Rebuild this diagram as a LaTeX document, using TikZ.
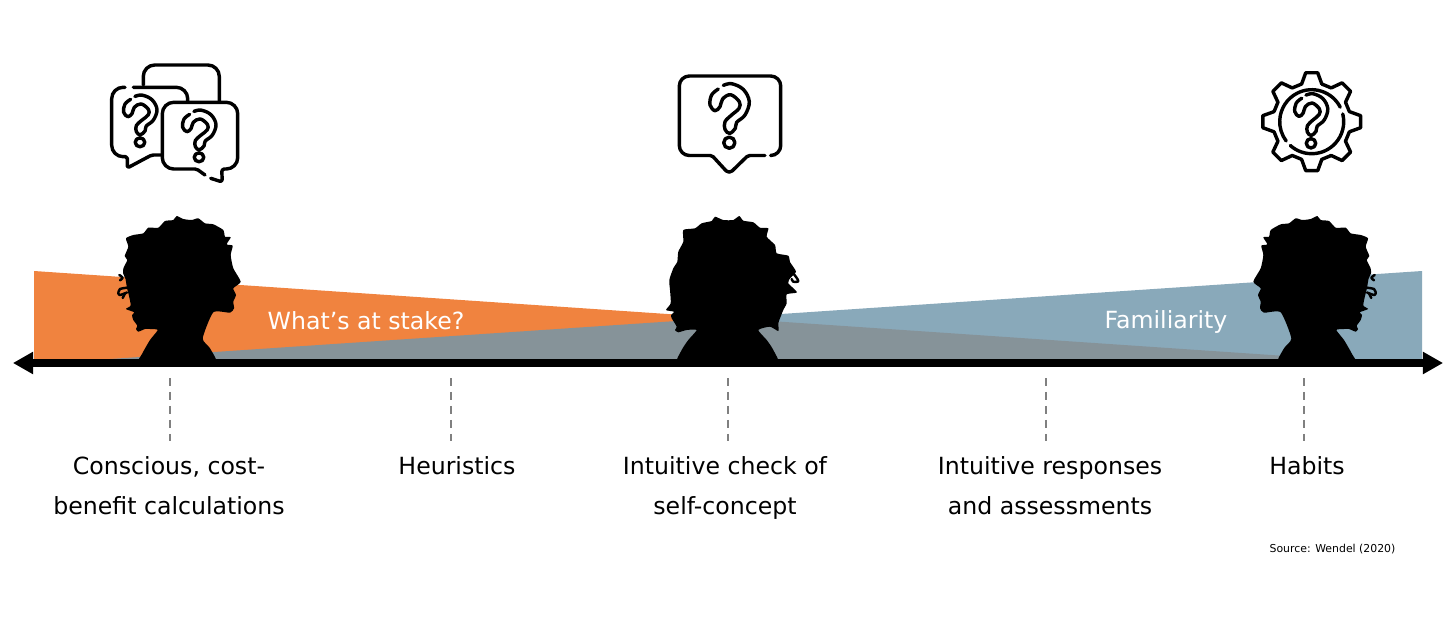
\documentclass[tikz,border=0pt]{standalone}
\usepackage{fontspec}
\setmainfont{DejaVu Sans}
\usetikzlibrary{arrows.meta}
\definecolor{stakeorange}{HTML}{F0833F}
\definecolor{familiarblue}{HTML}{7197AC}
\tikzset{
  iconline/.style={black,line width=1.95pt,line cap=round,line join=round},
  curlline/.style={black,line width=1.4pt,line cap=round,line join=round},
  ticklabel/.style={align=center,font=\fontsize{13.45}{22.6}\selectfont,inner sep=0pt},
  tickline/.style={gray,line width=1.1pt,dash pattern=on 4.5pt off 3.45pt},
  overlay label/.style={white,font=\fontsize{13.45}{16}\selectfont,inner sep=0pt},
  headside/.pic={
    \fill [black] plot [smooth cycle,tension=0.35] coordinates {(138.5,364) (142,354) (150,340) (157.7,330) (150,329) (145,329) (138.3,331.7) (136,329) (137.3,325.7) (133.3,320) (132,315) (134.3,312.3) (126,309) (130.7,305.5) (129,296) (127,288) (125.5,279) (123,273) (123.5,268) (127.3,260) (124.7,256) (128.3,246.7) (126,238.3) (133.3,235) (143.3,233.3) (148.3,227.7) (158.3,227.7) (165,221) (173.3,220) (176.7,216) (183.3,219) (191.7,220) (198.3,218.3) (205,223.3) (213.3,224.3) (223.3,230) (225,236.7) (230.7,237.3) (226.7,244.3) (232.7,245.7) (230.7,255) (233.3,268.3) (240.7,281.7) (233.3,288.3) (236,295) (233.3,301.7) (234,308.3) (230,312.7) (213.3,312.3) (202.7,338.3) (210,348.3) (216,364) (177,365)};
    \draw [curlline] plot [smooth,tension=0.6] coordinates {(119.3,275) (122.7,277.7) (120,280.3)};
    \draw [curlline] plot [smooth,tension=0.6] coordinates {(127,287.7) (120,289) (118.5,291.7) (119.5,295) (127,292.5)};
    \draw [curlline] (125,293.3) -- (122.7,298);
  },
  headfront/.pic={
    \fill [black] plot [smooth cycle,tension=0.35] coordinates {(678,364) (681.7,350) (688.3,340) (696.7,330) (686.7,330) (678.3,332.3) (675,330) (676.7,326.7) (671.7,318.3) (671,315) (674,311.7) (666,310) (670.7,303.3) (670,290) (669.3,280) (673.3,268.3) (677.3,261.7) (678.3,251.7) (683.3,241.7) (683.3,230) (695,228.3) (701.7,223.3) (711.7,221) (715,216.7) (723.3,220) (733.3,220) (739.3,216) (743.3,220.7) (753.3,222.3) (760,227.7) (768.3,228.3) (766.7,236.7) (775,245) (776.7,253.3) (788.3,255.7) (790,262) (796,271.7) (790,278.3) (788.3,283.3) (797,292.3) (786.7,294.3) (786.7,303.3) (783.3,310) (780,318.3) (778.3,323.3) (778.3,331) (770,326.7) (758.3,330) (766.7,340) (773.3,350) (777,364) (728,365)};
    \draw [curlline] plot [smooth,tension=0.6] coordinates {(794,274.3) (798.3,281) (793.3,281.7) (791.7,279)};
  },
  questionmark/.pic={
    \draw [iconline] plot [smooth,tension=0.6] coordinates {(-6,-57.3) (2.3,-59) (14,-53.3) (20,-41) (15.7,-27.7) (7.3,-20.3) (6,-14.3) (.3,-9.3) (-4.3,-13.3) (-4.3,-21) (2.3,-27.7) (9.7,-34.3) (10,-41) (1.3,-48) (-6.7,-43.7) (-9.3,-36) (-14.3,-32) (-19.3,-37.7) (-17.7,-47.7) (-11,-53.7)};
    \draw [iconline] (0,0) circle (5.6);
  }
}
\begin{document}
\begin{tikzpicture}[x=0.02cm,y=-0.02cm]
\useasboundingbox (0,0) rectangle (1456,639);
% wedges
\fill [stakeorange] (34,271) -- (1345,360) -- (34,360) -- cycle;
\fill [familiarblue,opacity=0.83] (1422,271) -- (1422,360) -- (95,360) -- cycle;
% axis
\coordinate (axisleft) at (34,363);
\coordinate (axisright) at (1422,363);
\draw [{Triangle[length=11.5pt,width=12pt]}-{Triangle[length=11.5pt,width=12pt]},line width=4pt,black,shorten <=-12pt,shorten >=-12pt] (axisleft) -- (axisright);
% heads
\pic {headside};
\pic {headfront};
\pic [xscale=-1,xshift=-1494*0.02cm] {headside};
% icons
\draw [iconline,rounded corners=6.5pt] (143.3,85) -- (143.3,65) -- (219.3,65) -- (219.3,101.7);
\draw [iconline,rounded corners=6.5pt] (125,87.3) -- (111.7,87.3) -- (111.7,156.7) [rounded corners=1pt] -- (127.3,156.7) -- (127.3,168) -- (151.7,155) -- (161.7,155);
\draw [iconline,rounded corners=6.5pt] (133.3,87.3) -- (187.7,87.3) -- (187.7,101.7);
\draw [iconline,rounded corners=1pt] (205,175) -- (196.7,169) [rounded corners=6.5pt] -- (162.3,169) -- (162.3,102.3) -- (237.7,102.3) -- (237.7,169) [rounded corners=1.5pt] -- (221.7,169) -- (222.3,182) -- (210.7,178.3);
\pic [xscale=0.85,yscale=0.8] at (140,142.3) {questionmark};
\pic [xscale=0.85,yscale=0.8] at (199,157.3) {questionmark};
\draw [iconline,rounded corners=1pt] (765,155.5) -- (748,155.5) [rounded corners=2.5pt] -- (729,174) [rounded corners=1pt] -- (712,155.5) [rounded corners=5.7pt] -- (679.3,155.5) -- (679.3,76) -- (780.7,76) -- (780.7,155.5) -- (771,155.5);
\pic at (729.3,142.7) {questionmark};
\begin{scope}[shift={(1311.7,121.7)}]
\foreach \a in {0,45,...,315}
  \draw [iconline] (\a+15:39) -- (\a+7:49.3) -- (\a-7:49.3) -- (\a-15:39) -- (\a-30:39);
\draw [iconline] (132:32) arc (132:-14:32);
\draw [iconline] (-27:32) arc (-27:-217:32);
\end{scope}
\pic [scale=0.84] at (1311,143.3) {questionmark};
% wedge labels
\node [overlay label] (stake) at (366,321) {What’s at stake?};
\node [overlay label] (familiarity) at (1166,322) {Familiarity};
% ticks
\coordinate (tickatop) at (170,378);
\coordinate (tickabot) at (170,441);
\coordinate (tickbtop) at (451,378);
\coordinate (tickbbot) at (451,441);
\coordinate (tickctop) at (728,378);
\coordinate (tickcbot) at (728,441);
\coordinate (tickdtop) at (1046,378);
\coordinate (tickdbot) at (1046,441);
\coordinate (tickeatop) at (1304,378);
\coordinate (tickebot) at (1304,441);
\draw [tickline] (tickatop) -- (tickabot);
\draw [tickline] (tickbtop) -- (tickbbot);
\draw [tickline] (tickctop) -- (tickcbot);
\draw [tickline] (tickdtop) -- (tickdbot);
\draw [tickline] (tickeatop) -- (tickebot);
% labels
\node [ticklabel,anchor=north] (conscious) at (169,456) {Conscious, cost-\\benefit calculations};
\node [ticklabel,anchor=north] (heuristics) at (457,456) {Heuristics};
\node [ticklabel,anchor=north] (check) at (725,456) {Intuitive check of\\self-concept};
\node [ticklabel,anchor=north] (responses) at (1050,456) {Intuitive responses\\and assessments};
\node [ticklabel,anchor=north] (habits) at (1307,456) {Habits};
\node [font=\fontsize{6.2}{8}\selectfont,inner sep=0pt] (source) at (1332.5,549.5) {Source: Wendel (2020)};
\end{tikzpicture}
\end{document}
